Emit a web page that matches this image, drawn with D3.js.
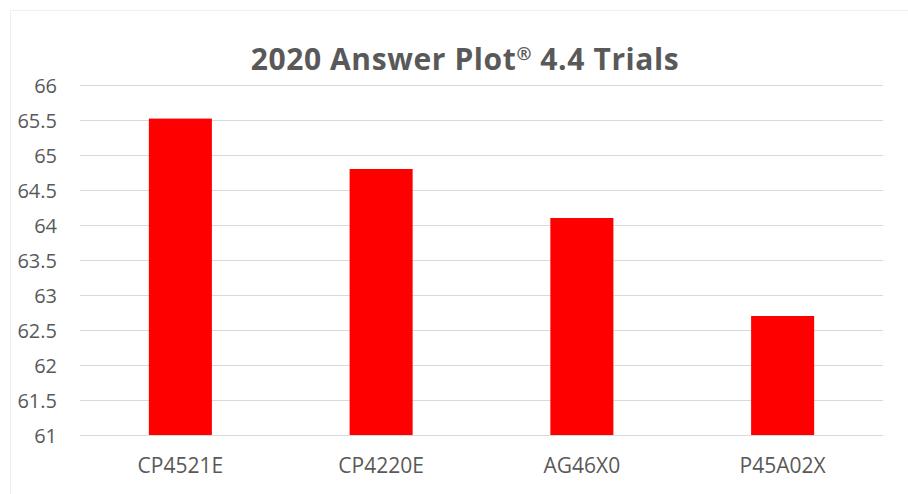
<!DOCTYPE html>
<html lang="en">
<head>
    <meta charset="UTF-8">
    <title>2020 Answer Plot 4.4 Trials</title>
    <script src="https://d3js.org/d3.v7.min.js"></script>
    <style>
        html, body { margin: 0; padding: 0; background: #fff; }
        svg { display: block; }
    </style>
</head>
<body>
    <svg id="chart" width="908" height="494"></svg>
    <script>
        // data
        const hybrids = ["CP4521E", "CP4220E", "AG46X0", "P45A02X"];
        const yields = [65.52, 64.8, 64.1, 62.7];
        const yTicks = [61, 61.5, 62, 62.5, 63, 63.5, 64, 64.5, 65, 65.5, 66];

        const width = 908, height = 494;
        const margin = { top: 85, right: 25, bottom: 59, left: 80 };
        const textColor = "#595959";

        const svg = d3.select("#chart");

        // faint chart frame
        svg.append("rect")
            .attr("x", 10.5).attr("y", 10.5)
            .attr("width", 920).attr("height", 500)
            .attr("fill", "none")
            .attr("stroke", "#f0f0f0");

        const x = d3.scaleBand()
            .domain(hybrids)
            .range([margin.left, width - margin.right])
            .paddingInner(0.686)
            .paddingOuter(0.343);

        const y = d3.scaleLinear()
            .domain([61, 66])
            .range([height - margin.bottom, margin.top]);

        // gridlines
        svg.append("g")
            .selectAll("line")
            .data(yTicks)
            .join("line")
            .attr("x1", margin.left)
            .attr("x2", width - margin.right)
            .attr("y1", d => Math.round(y(d)) + 0.5)
            .attr("y2", d => Math.round(y(d)) + 0.5)
            .attr("stroke", "#d9d9d9")
            .attr("stroke-width", 1);

        // bars
        svg.append("g")
            .selectAll("rect")
            .data(hybrids)
            .join("rect")
            .attr("x", d => x(d))
            .attr("width", x.bandwidth())
            .attr("y", (d, i) => y(yields[i]))
            .attr("height", (d, i) => y(61) - y(yields[i]))
            .attr("fill", "#ff0000");

        // y axis labels
        const yAxis = svg.append("g")
            .attr("transform", `translate(${margin.left - 23},0)`)
            .call(d3.axisLeft(y).tickValues(yTicks).tickSize(0).tickPadding(0).tickFormat(d3.format("")));
        yAxis.select(".domain").remove();
        yAxis.selectAll("text")
            .attr("font-family", "'Open Sans', sans-serif")
            .attr("font-size", 20)
            .attr("fill", textColor)
            .attr("dy", "0.36em");

        // x axis labels
        const xAxis = svg.append("g")
            .attr("transform", `translate(0,${height - margin.bottom})`)
            .call(d3.axisBottom(x).tickSize(0).tickPadding(23));
        xAxis.select(".domain").remove();
        xAxis.selectAll("text")
            .attr("font-family", "'Open Sans', sans-serif")
            .attr("font-size", 21)
            .attr("fill", textColor);

        // title, with a raised ® as in the original
        const title = svg.append("text")
            .attr("x", 465)
            .attr("y", 70)
            .attr("text-anchor", "middle")
            .attr("font-family", "'Open Sans', sans-serif")
            .attr("font-weight", "bold")
            .attr("font-size", 30)
            .attr("letter-spacing", 0.6)
            .attr("fill", textColor);
        title.append("tspan").text("2020 Answer Plot");
        title.append("tspan").attr("font-size", 18).attr("dy", -10).text("®");
        title.append("tspan").attr("dy", 10).text(" 4.4 Trials");
    </script>
</body>
</html>
